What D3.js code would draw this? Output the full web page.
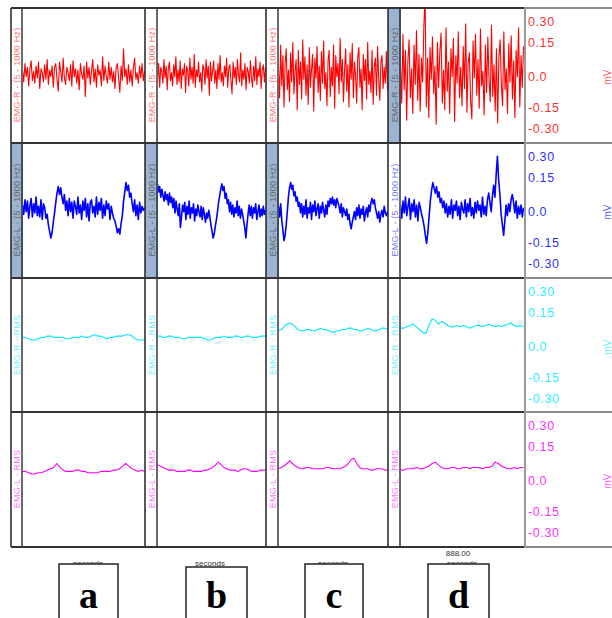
<!DOCTYPE html>
<html>
<head>
<meta charset="utf-8">
<script src="https://cdn.jsdelivr.net/npm/d3@7"></script>
<style>
  body { margin: 0; background: #fff; }
  svg { display: block; font-family: "Liberation Sans", Arial, sans-serif; }
</style>
</head>
<body>
<div id="chart"></div>
<script>
const w = 612, h = 618;

// channel names and colours, one per row
const rowNames = ["EMG-R - (5 - 1000 Hz)", "EMG-L - (5 - 1000 Hz)", "EMG-R - RMS", "EMG-L - RMS"];
const rowColors = ["#ff0000", "#0000ff", "#00e8ff", "#ff00ff"];
const colLetters = ["a", "b", "c", "d"];
const tickValues = [0.30, 0.15, 0.0, -0.15, -0.30];
const tickLabels = ["0.30", "0.15", "0.0", "-0.15", "-0.30"];

// values in 0.01 mV
const emgR_a = [3,-6,8,-2,5,-9,4,10,-5,2,-7,6,-3,9,-11,4,1,-6,7,-4,11,-8,3,-2,6,-10,5,8,-4,-13,9,2,-6,12,-3,-8,5,1,-5,7,-9,10,-2,4,-7,3,-12,8,0,-4,6,-17,9,-3,5,-8,2,11,-6,4,-10,7,-1,3,-9,13,-5,6,-2,-7,9,-4,5,-6,2,-11,5,8,-3,-14,6,-5,19,-2,4,-8,7,-6,3,-9,5,12,-4,1,-7,6,-3,8,-5,2];
const emgR_b = [-4,8,-10,5,2,-7,11,-3,6,-12,4,9,-5,1,-9,7,-2,13,-8,3,-6,10,-11,4,-1,8,-14,6,2,-9,12,-4,5,-7,15,-10,3,-2,9,-6,1,-13,7,4,-8,11,-3,6,-16,9,-5,2,10,-7,3,-11,8,-4,14,-6,1,-9,6,-2,12,-10,4,7,-5,-15,9,-3,5,-8,11,-1,-6,16,-9,3,-4,8,-12,5,2,-7,10,-3,-10,6,-5,13,-8,4,-2,9,-11,3,7,-6,5];
const emgR_c = [5,-18,22,-9,14,-25,8,19,-12,3,-21,16,-6,24,-15,2,11,-27,18,-8,9,-19,26,-4,13,-16,7,-23,20,-10,4,15,-28,12,-3,21,-14,6,-20,17,-7,25,-11,1,-24,10,18,-17,5,-9,22,-26,14,-2,8,-15,27,-6,11,-21,3,19,-13,7,-25,16,-4,23,-18,9,-1,-22,13,20,-10,4,-27,15,-5,11,-19,24,-8,2,-14,18,-23,6,12,-16,21,-3,-20,9,14,-11,5,-7,17,-12];
const emgR_d = [8,-22,30,-12,18,-35,10,26,-18,4,-30,22,-8,33,-20,15,-28,12,-6,36,58,-25,12,-33,20,-4,28,-15,6,-38,24,-10,17,31,-22,3,-27,35,-13,9,-30,19,-2,27,-36,14,-7,32,-18,5,-24,21,-11,38,-29,8,16,-20,-34,25,-3,30,-16,11,-26,34,-9,2,-31,22,-14,28,-5,-21,37,-17,7,-28,19,-37,13,26,-8,-24,32,-12,4,-30,23,-6,29,-19,10,-33,18,-2,35,-25,14,-10,21];

const emgL_a = [3,-4,7,-2,6,-7,2,8,-6,4,-3,9,-5,2,-6,7,-8,4,1,-7,-4,-12,-17,-22,-18,-10,-3,5,12,17,11,16,9,4,11,-1,6,-5,8,-2,5,-7,6,2,-4,9,-3,3,-8,6,-1,8,-6,4,-9,5,7,-3,2,-6,9,-4,5,-1,8,-7,3,-5,6,0,4,-8,2,-3,-7,-9,-13,-18,-15,-19,-11,-5,6,13,20,14,18,9,12,4,-2,7,-5,3,-8,5,-3,2,-1,1];
const emgL_b = [19,13,17,9,15,10,6,13,7,11,3,12,5,9,1,8,-3,6,0,-5,4,-14,-6,3,-2,5,-8,2,-4,6,-7,1,-3,4,-9,0,-5,3,-2,-6,2,-8,1,-4,-10,-3,-7,-1,-6,-12,-17,-22,-19,-13,-8,-2,5,10,15,19,14,17,8,12,4,7,-2,5,-4,3,-6,1,-3,6,-5,2,-7,0,-4,-9,-14,-22,-12,-4,3,-5,2,-7,1,-3,4,-8,-2,3,-6,0,-5,2,-4,-1];
const emgL_c = [2,-6,4,-9,-16,-24,-20,-12,-2,9,16,20,15,18,10,13,6,9,2,5,-3,4,-6,2,-4,7,-7,1,-3,5,-8,3,-2,6,-5,0,4,-7,2,-3,5,-1,-6,3,-4,6,2,8,4,9,3,7,1,8,5,2,-3,4,-6,1,-2,-5,0,-8,-4,-11,-15,-10,-6,-2,-8,1,-5,3,-7,0,-4,2,-9,-3,1,-6,3,-2,5,8,4,7,1,-3,-7,-2,-10,-4,-1,-6,2,-3,-5,-2];
const emgL_d = [3,-7,6,-3,9,-5,2,8,-8,4,-2,7,-6,3,-9,5,1,-4,-8,-13,-20,-26,-18,-6,6,14,20,16,12,17,9,13,5,8,1,6,-3,4,-6,2,-4,7,-7,3,-1,6,-5,2,-8,5,0,-3,7,-6,4,-2,8,-5,1,-7,5,-3,6,-1,3,-6,9,-4,2,-5,7,12,5,-2,10,18,9,26,40,22,11,-4,-12,-20,-9,3,-5,4,-2,7,11,5,-3,6,-7,2,-4,3,-6,1];

const rmsR_a = [5,5,4,3,3,4,5,5,6,6,5,5,5,5,4,4,5,5,5,6,5,5,6,7,6,6,5,4,5,5,6,6,6,7,7,6,4,3,3,3];
const rmsR_b = [6,6,5,5,6,6,5,5,5,4,4,5,5,5,5,5,5,4,3,3,4,5,5,5,6,5,5,5,6,6,5,5,6,6,5,5,5,6,6,6];
const rmsR_c = [10,11,13,15,16,15,13,11,10,10,11,11,10,10,11,12,11,11,10,9,9,10,10,11,11,12,12,11,11,10,10,11,12,11,10,10,11,12,12,11];
const rmsR_d = [12,12,13,14,15,13,11,9,8,14,19,18,15,17,16,14,13,13,14,13,14,13,12,13,14,14,13,14,15,14,13,14,13,14,15,16,14,13,14,13];

const rmsL_a = [5,5,4,3,3,4,4,5,6,7,8,11,8,6,5,5,5,6,6,5,5,4,4,4,4,5,5,5,5,6,6,7,9,11,9,7,6,5,6,5];
const rmsL_b = [10,9,8,7,6,6,6,5,5,5,5,6,6,5,5,5,5,6,6,7,8,10,12,10,8,7,6,6,6,5,6,7,7,6,5,5,5,6,6,6];
const rmsL_c = [7,8,9,11,13,11,9,8,7,7,8,8,7,7,7,7,7,8,8,7,7,7,7,8,9,11,14,15,11,8,7,7,7,6,6,7,7,7,6,6];
const rmsL_d = [6,6,7,7,7,8,7,7,8,9,11,12,10,8,7,7,8,8,7,7,8,8,7,8,8,8,7,8,8,9,12,11,9,8,7,7,8,7,8,8];

const series = [
  [emgR_a, emgR_b, emgR_c, emgR_d],
  [emgL_a, emgL_b, emgL_c, emgL_d],
  [rmsR_a, rmsR_b, rmsR_c, rmsR_d],
  [rmsL_a, rmsL_b, rmsL_c, rmsL_d]
];

// layout
const rowTops = [8, 143, 278, 412], rowH = 135, bottom = 547;
const cols = [
  {edge: 11, strip: 22, right: 145},
  {edge: 145, strip: 157, right: 266},
  {edge: 266, strip: 278, right: 388},
  {edge: 388, strip: 400, right: 524}
];
const axisX = 524;
const filledStrips = [[0,3],[1,0],[1,1],[1,2]];

const svg = d3.select("#chart").append("svg")
  .attr("width", w).attr("height", h)
  .attr("viewBox", "0 0 " + w + " " + h);

const y = d3.scaleLinear().domain([-0.5, 0.5]).range([132, 0]);
// the reference spaces its labels unevenly
const tickY = d3.scaleLinear().domain(tickValues).range([14, 35, 69, 100, 121]);

const defs = svg.append("defs");
cols.forEach((c, j) => {
  defs.append("clipPath").attr("id", "clip" + j)
    .append("rect").attr("x", c.strip).attr("y", 0).attr("width", c.right - c.strip).attr("height", rowH);
});

// strips
filledStrips.forEach(([r, c]) => {
  svg.append("rect").attr("x", cols[c].edge).attr("y", rowTops[r])
    .attr("width", cols[c].strip - cols[c].edge).attr("height", rowH)
    .attr("fill", "#9cb4d2");
});

// traces
rowTops.forEach((top, r) => {
  const g = svg.append("g").attr("transform", "translate(0," + top + ")");
  cols.forEach((c, j) => {
    const data = series[r][j];
    const x = d3.scaleLinear().domain([0, data.length - 1]).range([c.strip + 0.5, c.right - 0.5]);
    const line = d3.line().x((d, i) => x(i)).y(d => y(d / 100));
    g.append("path").datum(data)
      .attr("clip-path", "url(#clip" + j + ")")
      .attr("d", line)
      .attr("fill", "none")
      .attr("stroke", rowColors[r])
      .attr("stroke-width", r === 1 ? 1.6 : 1.1)
      .attr("stroke-linejoin", "round");
  });
});

// grid lines
const lines = svg.append("g");
cols.forEach(c => {
  lines.append("line").attr("x1", c.strip).attr("x2", c.strip).attr("y1", 8).attr("y2", bottom)
    .attr("stroke", "#6a6a6a").attr("stroke-width", 2);
  lines.append("line").attr("x1", c.edge).attr("x2", c.edge).attr("y1", 8).attr("y2", bottom)
    .attr("stroke", "#222").attr("stroke-width", 1.5);
});
filledStrips.forEach(([r, c]) => {
  lines.append("line").attr("x1", cols[c].strip).attr("x2", cols[c].strip)
    .attr("y1", rowTops[r]).attr("y2", rowTops[r] + rowH)
    .attr("stroke", "#3f4e5c").attr("stroke-width", 2);
});
rowTops.concat([bottom]).forEach(yy => {
  lines.append("line").attr("x1", 11).attr("x2", axisX).attr("y1", yy).attr("y2", yy)
    .attr("stroke", "#333").attr("stroke-width", 2);
  lines.append("line").attr("x1", axisX).attr("x2", w).attr("y1", yy).attr("y2", yy)
    .attr("stroke", "#8a8a8a").attr("stroke-width", 2);
});
lines.append("line").attr("x1", axisX + 1).attr("x2", axisX + 1).attr("y1", 8).attr("y2", bottom)
  .attr("stroke", "#999").attr("stroke-width", 2);

// strip labels
rowTops.forEach((top, r) => {
  cols.forEach((c, j) => {
    const filled = filledStrips.some(([fr, fc]) => fr === r && fc === j);
    svg.append("text")
      .attr("transform", "translate(" + ((c.edge + c.strip) / 2 + 3.5) + "," + (top + 67) + ") rotate(-90)")
      .attr("text-anchor", "middle")
      .attr("font-size", 9)
      .attr("letter-spacing", 0.2)
      .attr("fill", filled ? "#666" : rowColors[r])
      .attr("fill-opacity", filled ? 1 : 0.6)
      .text(rowNames[r]);
  });
});

svg.append("text")
  .attr("transform", "translate(311,75) rotate(-90)")
  .attr("text-anchor", "middle").attr("font-size", 7).attr("fill", "#555")
  .text("mV");

// value axis on the right
rowTops.forEach((top, r) => {
  const g = svg.append("g").attr("transform", "translate(" + (axisX + 4) + "," + top + ")");
  g.selectAll("text").data(tickValues).enter().append("text")
    .attr("x", 0).attr("y", d => tickY(d))
    .attr("dy", "0.35em")
    .attr("font-size", 12.5)
    .attr("letter-spacing", 0.6)
    .attr("fill", rowColors[r])
    .attr("fill-opacity", 0.85)
    .text((d, i) => tickLabels[i]);
  svg.append("text")
    .attr("transform", "translate(611," + (top + 69) + ") rotate(-90)")
    .attr("text-anchor", "middle").attr("font-size", 10)
    .attr("fill", rowColors[r]).attr("fill-opacity", 0.7)
    .text("mV");
});

// time labels and letter boxes
const secX = [88, 210, 333, 462];
const boxes = [{x: 59, w: 59, y: 564}, {x: 186, w: 61, y: 567}, {x: 305, w: 58, y: 564}, {x: 428, w: 61, y: 564}];

svg.selectAll(".sec").data(secX).enter().append("text")
  .attr("x", d => d).attr("y", 566)
  .attr("text-anchor", "middle").attr("font-size", 8).attr("fill", "#333")
  .text("seconds");
svg.append("text").attr("x", 458).attr("y", 556)
  .attr("text-anchor", "middle").attr("font-size", 8).attr("fill", "#333")
  .text("888.00");

const bx = svg.selectAll(".box").data(boxes).enter().append("g");
bx.append("rect")
  .attr("x", d => d.x).attr("y", d => d.y).attr("width", d => d.w).attr("height", 70)
  .attr("fill", "#fff").attr("stroke", "#222").attr("stroke-width", 1.5);
bx.append("text")
  .attr("x", d => d.x + d.w / 2).attr("y", d => Math.min(d.y + 44, 608))
  .attr("text-anchor", "middle")
  .attr("font-family", "'Liberation Serif', 'Times New Roman', serif")
  .attr("font-weight", "bold").attr("font-size", 38).attr("fill", "#000")
  .text((d, i) => colLetters[i]);
</script>
</body>
</html>
